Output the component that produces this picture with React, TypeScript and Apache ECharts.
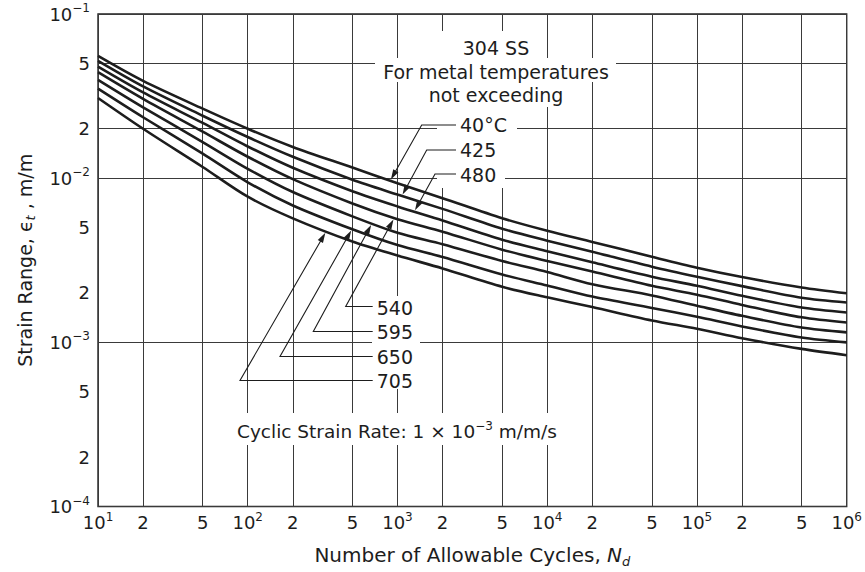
import React, { useEffect, useRef } from "react";
import * as echarts from "echarts";

// ---------------- data ----------------
const cycles = [10, 20, 50, 100, 200, 500, 1000, 2000, 5000, 10000, 20000, 50000, 100000, 200000, 500000, 1000000];

const strain40C = [0.0555, 0.0391, 0.0265, 0.02, 0.0155, 0.0116, 0.0093, 0.00755, 0.0057, 0.00478, 0.00409, 0.00332, 0.00285, 0.0025, 0.00216, 0.00199];
const strain425C = [0.0518, 0.0362, 0.024, 0.0178, 0.01349, 0.00978, 0.00795, 0.0065, 0.00492, 0.00416, 0.00356, 0.00289, 0.00251, 0.0022, 0.00187, 0.00175];
const strain480C = [0.0478, 0.0333, 0.0217, 0.0156, 0.01157, 0.00833, 0.00673, 0.00553, 0.00422, 0.00359, 0.00307, 0.00251, 0.00221, 0.00192, 0.00163, 0.00152];
const strain540C = [0.0442, 0.0304, 0.0192, 0.0135, 0.00986, 0.00701, 0.00562, 0.00472, 0.00367, 0.00313, 0.0027, 0.00221, 0.00195, 0.00169, 0.00142, 0.00132];
const strain595C = [0.0397, 0.027, 0.0166, 0.0114, 0.00823, 0.00585, 0.00465, 0.00396, 0.00313, 0.00268, 0.00226, 0.00193, 0.00167, 0.00145, 0.00123, 0.00115];
const strain650C = [0.0351, 0.0235, 0.0141, 0.00944, 0.00682, 0.00488, 0.00391, 0.00331, 0.00259, 0.00222, 0.0019, 0.00162, 0.00143, 0.00125, 0.00107, 0.001];
const strain705C = [0.0308, 0.02, 0.0117, 0.00771, 0.00569, 0.00411, 0.00338, 0.00282, 0.00218, 0.00188, 0.00164, 0.00136, 0.00121, 0.00106, 0.000912, 0.000835];

const curves = [strain40C, strain425C, strain480C, strain540C, strain595C, strain650C, strain705C];
const curveLabels = ["40°C", "425", "480", "540", "595", "650", "705"];
// number of cycles at which each leader arrow touches its curve
const arrowCycles = [893, 1069, 1294, 951, 675, 497, 334];

const xMinorTicks = [20, 50, 200, 500, 2000, 5000, 20000, 50000, 200000, 500000];
const xMinorLabels = ["2", "5", "2", "5", "2", "5", "2", "5", "2", "5"];
const yMinorTicks = [0.05, 0.02, 0.005, 0.002, 0.0005, 0.0002];
const yMinorLabels = ["5", "2", "5", "2", "5", "2"];

const titleLines = ["304 SS", "For metal temperatures", "not exceeding"];
const rateNote = "Cyclic Strain Rate: 1 × 10{s|\u22123} m/m/s";
const xTitle = "Number of Allowable Cycles, {i|N}{d|d}";
const yTitle = "Strain Range, {e|\u03f5}{t|t} , m/m";

// ---------------- styling / layout ----------------
const FONT = '"DejaVu Sans", "Liberation Sans", Arial, sans-serif';
const INK = "#1d1d1d";
const GRIDC = "#3a3a3a";
const G_LEFT = 98;
const G_RIGHT = 18.3;
const G_TOP = 14;
const G_BOTTOM = 65.5;

const titleX = 496;
const titleY = [47.7, 71.7, 95];
const labelX = [460, 460, 460, 376.7, 376.7, 376.7, 376.7];
const labelY = [125, 150, 174.5, 307.5, 332, 357, 380.5];
const leaderElbow = [
  [421.7, 125], [426.7, 150], [435, 174],
  [345.7, 306.5], [313.3, 331.5], [280, 356.5], [240, 380.5],
];
const whiteBoxes = [
  [437, 31, 103, 27],
  [375, 58, 241, 24],
  [420, 82, 150, 25],
  [437, 107, 80, 33],
  [437, 140, 68, 48],
  [372, 296, 48, 93],
  [232, 413, 331, 32],
];

const tickRich = {
  b: { fontFamily: FONT, fontSize: 18, color: INK, lineHeight: 24 },
  s: { fontFamily: FONT, fontSize: 12, color: INK, lineHeight: 8, verticalAlign: "top" },
};

function powLabel(v: number) {
  const e = Math.round(Math.log10(v));
  const s = e < 0 ? "\u2212" + -e : String(e);
  return "{b|10}{s|" + s + "}";
}

function curveAt(vals: number[], n: number) {
  const ln = Math.log10(n);
  for (let j = 0; j < cycles.length - 1; j++) {
    const a = Math.log10(cycles[j]);
    const b = Math.log10(cycles[j + 1]);
    if (ln >= a && ln <= b) {
      const t = (ln - a) / (b - a);
      return Math.pow(10, Math.log10(vals[j]) * (1 - t) + Math.log10(vals[j + 1]) * t);
    }
  }
  return vals[vals.length - 1];
}

export default function App() {
  const ref = useRef<HTMLDivElement>(null);

  useEffect(() => {
    document.body.style.margin = "0";
    const el = ref.current;
    if (!el) return;
    const chart = echarts.init(el, null, { renderer: "svg" });

    const series: any[] = curves.map((vals, i) => ({
      type: "line",
      name: curveLabels[i],
      data: cycles.map((n, j) => [n, vals[j]]),
      showSymbol: false,
      smooth: 0.3,
      silent: true,
      z: 3,
      lineStyle: { color: INK, width: 2.6 },
      emphasis: { disabled: true },
    }));
    series[0].markLine = {
      silent: true,
      symbol: ["none", "none"],
      z: 1,
      label: { show: false },
      emphasis: { disabled: true },
      lineStyle: { color: GRIDC, width: 1, type: "solid", opacity: 1 },
      data: [
        ...xMinorTicks.map((v) => ({ xAxis: v })),
        ...yMinorTicks.map((v) => ({ yAxis: v })),
      ],
    };

    chart.setOption({
      animation: false,
      textStyle: { fontFamily: FONT },
      grid: {
        left: G_LEFT, right: G_RIGHT, top: G_TOP, bottom: G_BOTTOM,
        show: true, borderColor: "#222", borderWidth: 1.4, backgroundColor: "transparent",
        containLabel: false, outerBoundsMode: "none",
      },
      xAxis: {
        type: "log", logBase: 10, min: 10, max: 1000000,
        axisLine: { show: false }, axisTick: { show: false },
        splitLine: { show: true, lineStyle: { color: GRIDC, width: 1 } },
        axisLabel: {
          margin: 4, formatter: powLabel, rich: tickRich,
          showMinLabel: true, showMaxLabel: true, hideOverlap: false,
        },
        name: xTitle, nameLocation: "middle", nameGap: 35, nameMoveOverlap: false,
        nameTextStyle: {
          fontFamily: FONT, fontSize: 20, color: INK, lineHeight: 26,
          rich: {
            i: { fontFamily: FONT, fontSize: 20, fontStyle: "italic", color: INK, lineHeight: 26 },
            d: { fontFamily: FONT, fontSize: 13, fontStyle: "italic", color: INK, lineHeight: 12, verticalAlign: "bottom" },
          },
        },
      },
      yAxis: {
        type: "log", logBase: 10, min: 0.0001, max: 0.1,
        axisLine: { show: false }, axisTick: { show: false },
        splitLine: { show: true, lineStyle: { color: GRIDC, width: 1 } },
        axisLabel: {
          margin: 8, formatter: powLabel, rich: tickRich,
          showMinLabel: true, showMaxLabel: true, hideOverlap: false,
        },
        name: yTitle, nameLocation: "middle", nameGap: 61, nameMoveOverlap: false,
        nameTextStyle: {
          fontFamily: FONT, fontSize: 19, color: INK, lineHeight: 24,
          rich: {
            e: { fontFamily: FONT, fontSize: 19, color: INK, lineHeight: 24 },
            t: { fontFamily: FONT, fontSize: 13, fontStyle: "italic", color: INK, lineHeight: 12, verticalAlign: "bottom" },
          },
        },
      },
      series,
    });

    // ---------- annotation graphics ----------
    const toPx = (x: number, y: number) => chart.convertToPixel({ gridIndex: 0 }, [x, y]) as number[];
    const plotBottom = chart.convertToPixel({ yAxisIndex: 0 }, 0.0001) as number;
    const plotLeft = chart.convertToPixel({ xAxisIndex: 0 }, 10) as number;

    const els: any[] = [];

    whiteBoxes.forEach(([x, y, w, h]) => {
      els.push({ type: "rect", z: 2, silent: true, shape: { x, y, width: w, height: h }, style: { fill: "#fff" } });
    });

    xMinorTicks.forEach((v, i) => {
      const x = chart.convertToPixel({ xAxisIndex: 0 }, v) as number;
      els.push({
        type: "text", z: 5, silent: true, x, y: plotBottom + 4,
        style: {
          text: "{b|" + xMinorLabels[i] + "}", align: "center", verticalAlign: "top",
          rich: { b: { fontFamily: FONT, fontSize: 18, fill: INK, lineHeight: 24 } },
        },
      });
    });
    yMinorTicks.forEach((v, i) => {
      const y = chart.convertToPixel({ yAxisIndex: 0 }, v) as number;
      els.push({
        type: "text", z: 5, silent: true, x: plotLeft - 8, y,
        style: {
          text: "{b|" + yMinorLabels[i] + "}", align: "right", verticalAlign: "middle",
          rich: { b: { fontFamily: FONT, fontSize: 18, fill: INK, lineHeight: 24 } },
        },
      });
    });

    titleLines.forEach((t, i) => {
      els.push({
        type: "text", z: 5, silent: true, x: titleX, y: titleY[i],
        style: { text: t, fontFamily: FONT, fontSize: 19, fill: INK, align: "center", verticalAlign: "middle" },
      });
    });

    els.push({
      type: "text", z: 5, silent: true, x: 237, y: 431.5,
      style: {
        text: rateNote, fontFamily: FONT, fontSize: 18.5, fill: INK, lineHeight: 24,
        align: "left", verticalAlign: "middle",
        rich: { s: { fontFamily: FONT, fontSize: 12, fill: INK, lineHeight: 8, verticalAlign: "top" } },
      },
    });

    curveLabels.forEach((lab, i) => {
      els.push({
        type: "text", z: 5, silent: true, x: labelX[i], y: labelY[i],
        style: { text: lab, fontFamily: FONT, fontSize: 19, fill: INK, align: "left", verticalAlign: "middle" },
      });
      const [ex, ey] = leaderElbow[i];
      const n = arrowCycles[i];
      const [tx0, ty0] = toPx(n, curveAt(curves[i], n));
      let ux = tx0 - ex;
      let uy = ty0 - ey;
      const len = Math.hypot(ux, uy);
      ux /= len;
      uy /= len;
      const tx = tx0 - ux * 1.6;
      const ty = ty0 - uy * 1.6;
      const L = 10;
      const W = 3;
      const bx = tx - ux * L;
      const by = ty - uy * L;
      const nx = -uy;
      const ny = ux;
      els.push({
        type: "polyline", z: 4, silent: true,
        shape: { points: [[labelX[i] - 4, ey], [ex, ey], [bx + ux * 2, by + uy * 2]] },
        style: { stroke: INK, lineWidth: 1.1, fill: null },
      });
      els.push({
        type: "polygon", z: 4, silent: true,
        shape: { points: [[tx, ty], [bx + nx * W, by + ny * W], [bx - nx * W, by - ny * W]] },
        style: { fill: INK },
      });
    });

    chart.setOption({ graphic: els });

    return () => chart.dispose();
  }, []);

  return <div ref={ref} style={{ position: "fixed", left: 0, top: 0, width: 865, height: 572, background: "#fff" }} />;
}
